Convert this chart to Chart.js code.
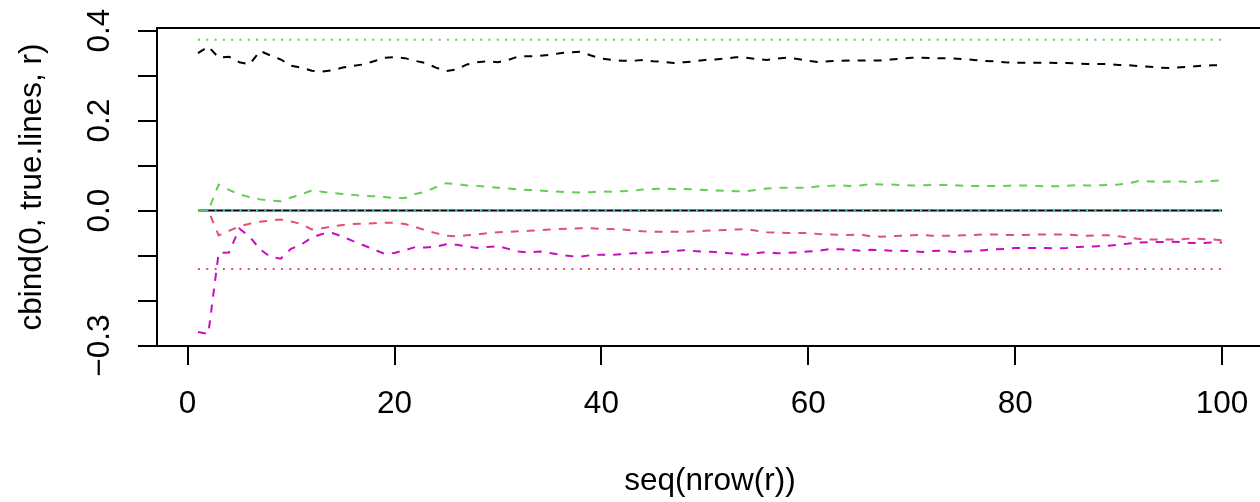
<!DOCTYPE html>
<html>
<head>
<meta charset="utf-8">
<script src="https://cdn.jsdelivr.net/npm/chart.js@4.4.1/dist/chart.umd.min.js"></script>
<style>
  html, body { margin: 0; padding: 0; background: #ffffff; overflow: hidden; width: 1260px; height: 502px; }
  #wrap { width: 1275px; height: 502px; }
</style>
</head>
<body>
<div id="wrap"><canvas id="c" width="1275" height="502"></canvas></div>
<script>
// ---- data ----
const xIndex = Array.from({ length: 100 }, (_, i) => i + 1); // seq(nrow(r))
const xTickValues = [0, 20, 40, 60, 80, 100];
const yTickValues = [-0.3, -0.2, -0.1, 0.0, 0.1, 0.2, 0.3, 0.4];
const yTickLabels = ['\u22120.3', '', '', '0.0', '', '0.2', '', '0.4'];

const zeroLevel = 0;
const trueGreenLevel = 0.38;
const trueCyanLevel = 0;
const truePinkLevel = -0.13;

const rBlack = [0.350,0.365,0.340,0.342,0.330,0.325,0.355,0.345,0.336,0.322,
  0.318,0.311,0.309,0.312,0.318,0.322,0.325,0.332,0.340,0.341,
  0.339,0.333,0.328,0.318,0.310,0.314,0.325,0.330,0.332,0.330,
  0.335,0.343,0.343,0.344,0.346,0.350,0.352,0.353,0.345,0.338,
  0.335,0.333,0.333,0.335,0.332,0.331,0.328,0.330,0.332,0.335,
  0.336,0.338,0.341,0.340,0.337,0.335,0.338,0.340,0.337,0.333,
  0.330,0.332,0.333,0.334,0.334,0.334,0.334,0.336,0.338,0.340,
  0.340,0.339,0.339,0.338,0.337,0.335,0.333,0.332,0.330,0.329,
  0.329,0.329,0.329,0.328,0.328,0.327,0.326,0.326,0.326,0.324,
  0.323,0.321,0.320,0.318,0.317,0.319,0.320,0.322,0.323,0.323];

const rGreen = [0,0,0.058,0.046,0.036,0.030,0.025,0.022,0.021,0.029,
  0.036,0.045,0.042,0.039,0.037,0.035,0.033,0.032,0.030,0.028,
  0.028,0.037,0.042,0.052,0.061,0.059,0.056,0.055,0.053,0.051,
  0.049,0.047,0.046,0.045,0.043,0.042,0.041,0.040,0.041,0.043,
  0.042,0.043,0.044,0.047,0.048,0.049,0.048,0.048,0.047,0.046,
  0.045,0.044,0.043,0.043,0.046,0.049,0.051,0.051,0.051,0.051,
  0.054,0.055,0.056,0.055,0.056,0.059,0.058,0.058,0.057,0.056,
  0.056,0.057,0.057,0.057,0.055,0.055,0.055,0.055,0.055,0.056,
  0.056,0.055,0.054,0.054,0.055,0.057,0.056,0.056,0.057,0.058,
  0.061,0.066,0.065,0.064,0.065,0.065,0.063,0.065,0.066,0.067];

const rRed = [0,0,-0.055,-0.045,-0.035,-0.029,-0.025,-0.022,-0.020,-0.024,
  -0.030,-0.042,-0.039,-0.035,-0.032,-0.030,-0.029,-0.028,-0.027,-0.027,
  -0.030,-0.036,-0.044,-0.050,-0.056,-0.057,-0.055,-0.053,-0.050,-0.048,
  -0.047,-0.046,-0.045,-0.044,-0.042,-0.041,-0.040,-0.039,-0.039,-0.041,
  -0.041,-0.042,-0.044,-0.046,-0.047,-0.047,-0.047,-0.047,-0.046,-0.045,
  -0.044,-0.043,-0.042,-0.041,-0.045,-0.048,-0.049,-0.050,-0.050,-0.050,
  -0.052,-0.053,-0.054,-0.054,-0.053,-0.057,-0.058,-0.057,-0.056,-0.055,
  -0.054,-0.056,-0.056,-0.056,-0.055,-0.054,-0.053,-0.053,-0.054,-0.054,
  -0.054,-0.053,-0.053,-0.053,-0.053,-0.055,-0.056,-0.055,-0.055,-0.057,
  -0.060,-0.063,-0.064,-0.064,-0.064,-0.064,-0.062,-0.063,-0.064,-0.066];

const rMagenta = [-0.270,-0.274,-0.094,-0.093,-0.040,-0.058,-0.086,-0.103,-0.107,-0.085,
  -0.075,-0.060,-0.052,-0.050,-0.058,-0.068,-0.077,-0.086,-0.096,-0.094,
  -0.088,-0.081,-0.082,-0.080,-0.075,-0.076,-0.080,-0.083,-0.081,-0.079,
  -0.085,-0.091,-0.093,-0.091,-0.094,-0.098,-0.101,-0.102,-0.099,-0.098,
  -0.098,-0.097,-0.095,-0.094,-0.093,-0.092,-0.090,-0.088,-0.090,-0.091,
  -0.092,-0.094,-0.096,-0.098,-0.094,-0.092,-0.095,-0.094,-0.093,-0.091,
  -0.089,-0.086,-0.086,-0.087,-0.089,-0.087,-0.088,-0.089,-0.089,-0.090,
  -0.092,-0.090,-0.089,-0.092,-0.091,-0.090,-0.088,-0.086,-0.085,-0.083,
  -0.083,-0.083,-0.083,-0.084,-0.083,-0.081,-0.080,-0.079,-0.078,-0.076,
  -0.073,-0.071,-0.070,-0.070,-0.069,-0.070,-0.072,-0.072,-0.071,-0.071];

// ---- styling ----
const FONT_FAMILY = "'Liberation Sans', Arial, Helvetica, sans-serif";
const FONT_SIZE = 31.5;
const DASHED = [8, 8];
const DOTTED = [2, 6.3];

function pts(values) { return xIndex.map((x, i) => ({ x: x, y: values[i] })); }
function flat(level) { return xIndex.map(x => ({ x: x, y: level })); }

function ds(data, color, dash, order) {
  return {
    data: data, borderColor: color, backgroundColor: color, borderWidth: 2,
    borderDash: dash, borderCapStyle: 'butt', pointRadius: 0, pointHoverRadius: 0,
    tension: 0, fill: false, order: order
  };
}

// measure widest y label to center rotated labels on x
const mctx = document.createElement('canvas').getContext('2d');
mctx.font = FONT_SIZE + 'px ' + FONT_FAMILY;
const widestY = Math.max(...yTickLabels.map(s => mctx.measureText(s).width));
const yLabelCenterX = 100.5, yAxisWidth = 157, tickLen = 19;
const yPad = yAxisWidth - tickLen - widestY / 2 - yLabelCenterX;

const boxPlugin = {
  id: 'rbox',
  afterDatasetsDraw(chart) {
    const { ctx, chartArea: a } = chart;
    ctx.save();
    ctx.strokeStyle = '#000';
    ctx.lineWidth = 2;
    ctx.setLineDash([]);
    ctx.strokeRect(a.left, a.top, a.right - a.left, a.bottom - a.top);
    ctx.restore();
  }
};

new Chart(document.getElementById('c'), {
  type: 'line',
  data: {
    datasets: [
      ds(flat(zeroLevel), '#000000', [], 10),
      ds(flat(trueGreenLevel), '#61D04F', DOTTED, 9),
      ds(flat(trueCyanLevel), '#28E2E5', DOTTED, 8),
      ds(flat(truePinkLevel), '#DF536B', DOTTED, 7),
      ds(pts(rRed), '#DF536B', DASHED, 6),
      ds(pts(rMagenta), '#CD0BBC', DASHED, 5),
      ds(pts(rGreen), '#61D04F', DASHED, 4),
      ds(pts(rBlack), '#000000', DASHED, 3)
    ]
  },
  options: {
    responsive: false,
    devicePixelRatio: 1,
    animation: false,
    events: [],
    layout: { padding: { left: 0, right: 12, top: 28, bottom: 0 } },
    plugins: { legend: { display: false }, tooltip: { enabled: false }, title: { display: false } },
    scales: {
      x: {
        type: 'linear',
        min: -2.96, max: 103.96,
        afterBuildTicks: (s) => { s.ticks = xTickValues.map(v => ({ value: v })); },
        afterFit: (s) => { s.height = 156; },
        border: { display: false },
        grid: { display: true, drawOnChartArea: false, drawTicks: true, tickLength: tickLen, lineWidth: 2, color: '#000' },
        ticks: {
          autoSkip: false, maxRotation: 0, minRotation: 0, padding: 20.6, color: '#000',
          font: { family: FONT_FAMILY, size: FONT_SIZE },
          callback: (v) => String(v)
        },
        title: {
          display: true, text: 'seq(nrow(r))', color: '#000',
          font: { family: FONT_FAMILY, size: FONT_SIZE }, padding: { top: 0, bottom: 2 }
        }
      },
      y: {
        type: 'linear',
        min: -0.301, max: 0.406,
        afterBuildTicks: (s) => { s.ticks = yTickValues.map(v => ({ value: v })); },
        afterFit: (s) => { s.width = yAxisWidth; },
        border: { display: false },
        grid: { display: true, drawOnChartArea: false, drawTicks: true, tickLength: tickLen, lineWidth: 2, color: '#000' },
        ticks: {
          autoSkip: false, minRotation: 90, maxRotation: 90, crossAlign: 'center', padding: yPad, color: '#000',
          font: { family: FONT_FAMILY, size: FONT_SIZE },
          callback: (v, i) => yTickLabels[i]
        },
        title: {
          display: true, text: 'cbind(0, true.lines, r)', color: '#000',
          font: { family: FONT_FAMILY, size: FONT_SIZE }, padding: { top: 13, bottom: 0 }
        }
      }
    }
  },
  plugins: [boxPlugin]
});
</script>
</body>
</html>
